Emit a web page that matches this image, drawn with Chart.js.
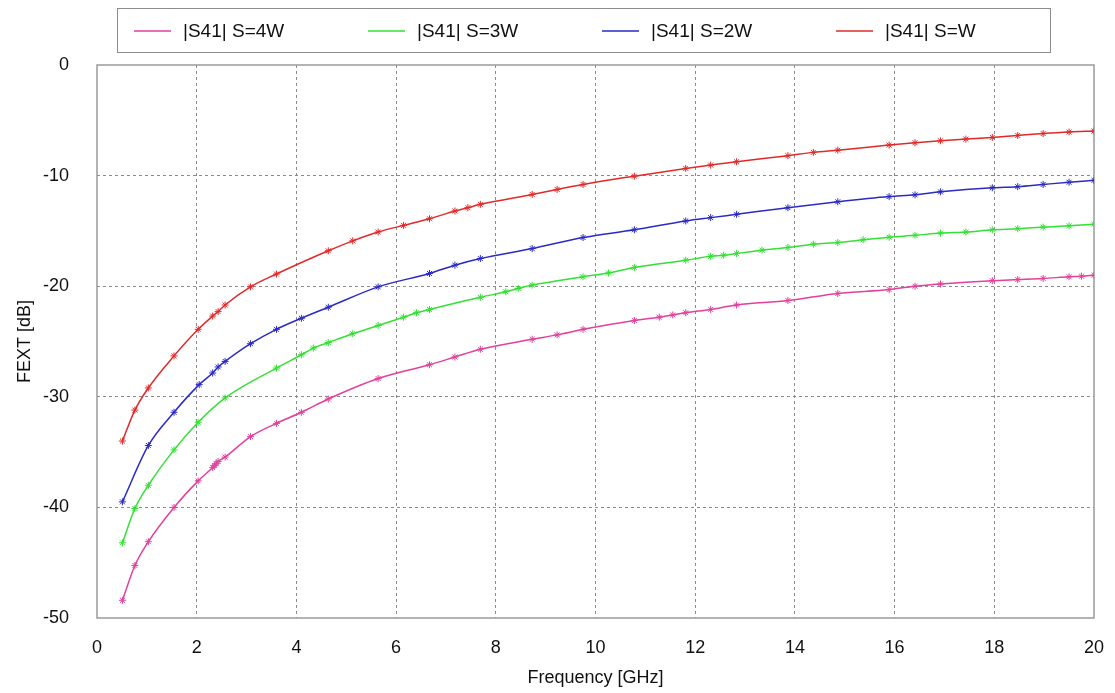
<!DOCTYPE html>
<html>
<head>
<meta charset="utf-8">
<script src="https://cdn.jsdelivr.net/npm/chart.js@4/dist/chart.umd.min.js"></script>
<style>
  html, body { margin: 0; padding: 0; background: #fff; }
  #wrap { width: 1115px; height: 693px; }
</style>
</head>
<body>
<div id="wrap"><canvas id="fext" width="1115" height="693"></canvas></div>
<script>
// series labels
const labels = ["|S41| S=4W", "|S41| S=3W", "|S41| S=2W", "|S41| S=W"];
const colors = ["#e2409c", "#33e033", "#2a2ac4", "#e02a2a"];

// S=4W
const freq4W = [0.51, 0.76, 1.03, 1.545, 2.03, 2.32, 2.36, 2.39, 2.43, 2.57, 3.08, 3.6, 4.1, 4.64, 5.64, 6.67, 7.18, 7.69, 8.73, 9.23, 9.75, 10.78, 11.28, 11.55, 11.81, 12.31, 12.83, 13.86, 14.86, 15.89, 16.41, 16.92, 17.96, 18.47, 18.98, 19.5, 19.75, 20];
const fext4W = [-48.4, -45.25, -43.1, -40.0, -37.6, -36.4, -36.2, -36.05, -35.85, -35.45, -33.6, -32.4, -31.4, -30.2, -28.35, -27.1, -26.4, -25.7, -24.8, -24.4, -23.9, -23.1, -22.8, -22.6, -22.4, -22.1, -21.7, -21.3, -20.66, -20.3, -20.0, -19.8, -19.5, -19.4, -19.3, -19.15, -19.1, -19.0];

// S=3W
const freq3W = [0.51, 0.76, 1.03, 1.545, 2.03, 2.57, 3.6, 4.1, 4.34, 4.64, 5.13, 5.64, 6.15, 6.41, 6.67, 7.69, 8.2, 8.45, 8.73, 9.75, 10.26, 10.78, 11.81, 12.31, 12.57, 12.83, 13.34, 13.86, 14.37, 14.86, 15.37, 15.89, 16.41, 16.92, 17.43, 17.96, 18.47, 18.98, 19.5, 20];
const fext3W = [-43.2, -40.1, -38.0, -34.8, -32.3, -30.1, -27.4, -26.2, -25.6, -25.1, -24.3, -23.55, -22.8, -22.4, -22.1, -21.0, -20.5, -20.2, -19.9, -19.15, -18.8, -18.3, -17.65, -17.3, -17.2, -17.04, -16.74, -16.5, -16.2, -16.05, -15.8, -15.57, -15.4, -15.2, -15.1, -14.9, -14.8, -14.66, -14.54, -14.4];

// S=2W
const freq2W = [0.51, 1.03, 1.545, 2.05, 2.32, 2.43, 2.57, 3.08, 3.6, 4.1, 4.64, 5.64, 6.67, 7.18, 7.69, 8.73, 9.75, 10.78, 11.81, 12.31, 12.83, 13.86, 14.86, 15.89, 16.41, 16.92, 17.96, 18.47, 18.98, 19.5, 20];
const fext2W = [-39.5, -34.4, -31.4, -28.9, -27.85, -27.3, -26.8, -25.2, -23.9, -22.9, -21.9, -20.06, -18.85, -18.1, -17.5, -16.6, -15.6, -14.9, -14.1, -13.8, -13.5, -12.9, -12.37, -11.9, -11.74, -11.47, -11.1, -11.0, -10.8, -10.6, -10.43];

// S=W
const freqW = [0.51, 0.76, 1.03, 1.545, 2.03, 2.32, 2.43, 2.57, 3.08, 3.6, 4.64, 5.13, 5.64, 6.15, 6.67, 7.18, 7.44, 7.69, 8.73, 9.23, 9.75, 10.78, 11.81, 12.31, 12.83, 13.86, 14.37, 14.86, 15.89, 16.41, 16.92, 17.43, 17.96, 18.47, 18.98, 19.5, 20];
const fextW = [-34.0, -31.2, -29.2, -26.3, -23.9, -22.7, -22.3, -21.7, -20.06, -18.9, -16.8, -15.9, -15.1, -14.5, -13.9, -13.2, -12.9, -12.6, -11.7, -11.25, -10.8, -10.05, -9.35, -9.05, -8.75, -8.2, -7.9, -7.7, -7.24, -7.03, -6.85, -6.7, -6.55, -6.37, -6.2, -6.06, -5.97];

const xTicks = [0, 2, 4, 6, 8, 10, 12, 14, 16, 18, 20];
const yTicks = [0, -10, -20, -30, -40, -50];

const freqs = [freq4W, freq3W, freq2W, freqW];
const values = [fext4W, fext3W, fext2W, fextW];

const FONT = "'Liberation Sans', Arial, sans-serif";

function toPoints(xs, ys) {
    return xs.map((x, i) => ({x: x, y: ys[i]}));
}

// legend drawn as a boxed row of fixed columns
const boxLegend = {
    id: 'boxLegend',
    afterDraw(chart) {
        const ctx = chart.ctx;
        ctx.save();
        ctx.strokeStyle = '#8c8c8c';
        ctx.lineWidth = 1;
        ctx.strokeRect(117.5, 8.5, 933, 44);
        ctx.font = "19px " + FONT;
        ctx.textBaseline = 'middle';
        ctx.fillStyle = '#111';
        labels.forEach((lab, i) => {
            const x0 = 134 + i * 234;
            ctx.strokeStyle = colors[i];
            ctx.lineWidth = 1.5;
            ctx.beginPath();
            ctx.moveTo(x0, 31);
            ctx.lineTo(x0 + 37, 31);
            ctx.stroke();
            ctx.fillText(lab, x0 + 49, 32);
        });
        ctx.restore();
    }
};

// solid frame round the plot area
const plotFrame = {
    id: 'plotFrame',
    beforeDatasetsDraw(chart) {
        const a = chart.chartArea;
        const ctx = chart.ctx;
        ctx.save();
        ctx.strokeStyle = '#9a9a9a';
        ctx.lineWidth = 1.5;
        ctx.strokeRect(a.left, a.top, a.right - a.left, a.bottom - a.top);
        ctx.restore();
    }
};

const datasets = labels.map((lab, i) => ({
    label: lab,
    data: toPoints(freqs[i], values[i]),
    borderColor: colors[i],
    backgroundColor: colors[i],
    borderWidth: 1.5,
    pointStyle: 'star',
    pointRadius: 3.5,
    pointBorderWidth: 1,
    pointBorderColor: colors[i],
    cubicInterpolationMode: 'monotone',
    showLine: true,
    fill: false
}));

new Chart(document.getElementById('fext').getContext('2d'), {
    type: 'scatter',
    data: { datasets: datasets },
    plugins: [plotFrame, boxLegend],
    options: {
        responsive: false,
        animation: false,
        layout: { padding: { top: 65, right: 21, left: 0, bottom: 0 } },
        plugins: {
            legend: { display: false },
            tooltip: { enabled: false }
        },
        scales: {
            x: {
                type: 'linear',
                min: 0,
                max: 20,
                afterFit(scale) {
                    scale.height = 75;
                    scale.paddingLeft = 0;
                    scale.paddingRight = 0;
                },
                afterBuildTicks(scale) { scale.ticks = xTicks.map(v => ({value: v})); },
                ticks: { color: '#111', font: { size: 18, family: FONT }, padding: 19 },
                grid: {
                    color: (c) => (c.tick && (c.tick.value === 0 || c.tick.value === 20)) ? 'rgba(0,0,0,0)' : '#8a8a8a',
                    lineWidth: 1,
                    drawTicks: false
                },
                border: { display: false, dash: [3, 3] },
                title: {
                    display: true,
                    text: 'Frequency [GHz]',
                    color: '#111',
                    font: { size: 18, family: FONT },
                    padding: { top: 0, bottom: 4 }
                }
            },
            y: {
                type: 'linear',
                min: -50,
                max: 0,
                afterFit(scale) {
                    scale.width = 97;
                    scale.paddingTop = 0;
                    scale.paddingBottom = 0;
                },
                afterBuildTicks(scale) { scale.ticks = yTicks.map(v => ({value: v})); },
                ticks: { color: '#111', font: { size: 18, family: FONT }, padding: 28 },
                grid: {
                    color: (c) => (c.tick && (c.tick.value === 0 || c.tick.value === -50)) ? 'rgba(0,0,0,0)' : '#8a8a8a',
                    lineWidth: 1,
                    drawTicks: false
                },
                border: { display: false, dash: [3, 3] },
                title: {
                    display: true,
                    text: 'FEXT [dB]',
                    color: '#111',
                    font: { size: 18, family: FONT },
                    padding: { top: 14, bottom: 0 }
                }
            }
        }
    }
});
</script>
</body>
</html>
